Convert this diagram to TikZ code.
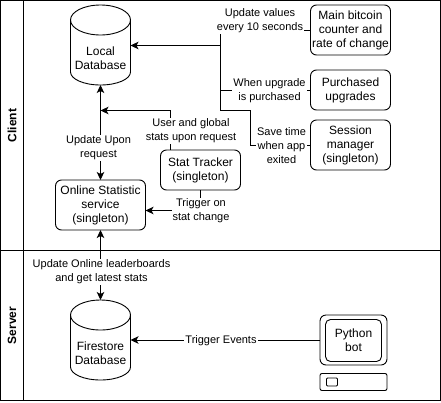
\documentclass[tikz,border=0pt]{standalone}
\usepackage{fontspec}
\setmainfont{Liberation Sans}
\usetikzlibrary{arrows.meta}

\newcommand{\dbcan}[1]{
    \draw ([yshift=-15pt]#1.north west) arc[start angle=180, end angle=0, x radius=30pt, y radius=15pt]
        -- ([yshift=13pt]#1.south east) arc[start angle=0, end angle=-180, x radius=30pt, y radius=13pt] -- cycle;
    \draw ([yshift=-15pt]#1.north west) arc[start angle=180, end angle=360, x radius=30pt, y radius=15pt];
}

\begin{document}
\begin{tikzpicture}[x=1pt, y=-1pt, >={Stealth[length=8pt, width=7.5pt, inset=2pt]}, line width=0.9pt, font=\fontsize{12}{14}\selectfont]
    \tikzstyle{lanehead}=[draw, rotate=90, minimum height=23pt, inner sep=0pt, outer sep=0pt, font=\fontsize{12}{14}\selectfont\bfseries]
    \tikzstyle{lanebody}=[draw, minimum width=417pt, inner sep=0pt, outer sep=0pt]
    \tikzstyle{box}=[draw, rounded corners=6pt, minimum width=80pt, inner sep=0pt, outer sep=0pt, align=center]
    \tikzstyle{db}=[minimum width=60pt, minimum height=80pt, inner sep=0pt, outer sep=0pt, align=center]
    \tikzstyle{edgelabel}=[fill=white, align=center, inner sep=1pt, font=\fontsize{11}{14}\selectfont]
    \useasboundingbox (0,0) rectangle (441,402);
    % lanes
    \node[lanehead, minimum width=250pt] (clienthead) at (12,125.5) {Client};
    \node[lanebody, minimum height=250pt] (clientbody) at (232,125.5) {};
    \node[lanehead, minimum width=150pt] (serverhead) at (12,325.5) {Server};
    \node[lanebody, minimum height=150pt] (serverbody) at (232,325.5) {};
    % client boxes
    \node[db] (localdb) at (100.5,45) {\\[22pt]Local\\Database};
    \dbcan{localdb}
    \node[box] (counter) at (350.5,30) [minimum height=50pt] {Main bitcoin\\counter and\\rate of change};
    \node[box] (upgrades) at (350.5,90) [minimum height=40pt] {Purchased\\upgrades};
    \node[box] (session) at (350.5,145) [minimum height=50pt] {Session\\manager\\(singleton)};
    \node[box] (tracker) at (200.5,170) [minimum height=40pt] {Stat Tracker\\(singleton)};
    \node[box, minimum width=90pt] (online) at (100.5,205) [minimum height=50pt] {Online Statistic\\service\\(singleton)};
    % server boxes
    \node[db] (firestore) at (100.5,340) {\\[22pt]Firestore\\Database};
    \dbcan{firestore}
    \node[box, minimum width=67pt, minimum height=50pt] (screen) at (353.5,340) {};
    \node[box, minimum width=56pt, minimum height=42pt, rounded corners=5pt] (bot) at (353.5,340.5) {Python\\bot};
    \node[box, minimum width=67pt, minimum height=17pt, rounded corners=2pt] (keyboard) at (353.5,382) {};
    \node[box, minimum width=11pt, minimum height=8pt, rounded corners=1pt] (button) at (332,382) {};
    % connectors
    \coordinate (junction) at (220.5,110.5);
    \coordinate (dbport) at (130.5,45.5);
    \draw[->] (counter.west) -- (220.5,30) -- (220.5,45.5) -- (dbport);
    \draw (upgrades.west) -- (220.5,90);
    \draw (session.west) -- (250.5,145) -- (250.5,110.5) -- (junction) -- (220.5,45.5);
    \draw[->] (170.5,150) -- (170.5,110.5) -- (100.5,110.5);
    \draw[<->] (localdb.south) -- (online.north);
    \draw[->] (200.5,190) -- (200.5,210.5) -- (145.5,210.5);
    \draw[<->] (online.south) -- (firestore.north);
    \draw[->] (screen.west) -- (130.5,340);
    % labels
    \node[edgelabel] (updatelabel) at (260,21) {Update values\\every 10 seconds};
    \node[edgelabel] (purchaselabel) at (269.5,90.5) {When upgrade\\is purchased};
    \node[edgelabel] (savelabel) at (281.5,146) {Save time\\when app\\exited};
    \node[edgelabel] (statslabel) at (191,131) {User and global\\stats upon request};
    \node[edgelabel] (requestlabel) at (98.5,148) {Update Upon\\request};
    \node[edgelabel] (triggerlabel) at (201,211) {Trigger on\\stat change};
    \node[edgelabel] (leaderlabel) at (101.5,272) {Update Online leaderboards\\and get latest stats};
    \node[edgelabel] (eventlabel) at (221,341) {Trigger Events};
\end{tikzpicture}
\end{document}
